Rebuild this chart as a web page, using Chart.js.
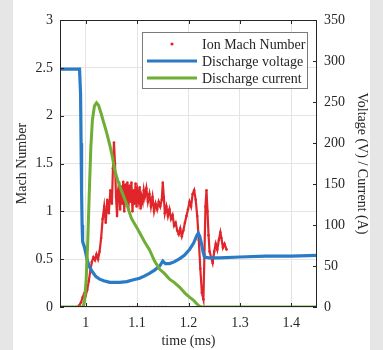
<!DOCTYPE html>
<html>
<head>
<meta charset="utf-8">
<script src="https://cdn.jsdelivr.net/npm/chart.js@4"></script>
<style>
  html, body { margin: 0; padding: 0; background: #e6e6e6; }
  #wrap { position: absolute; left: 13px; top: 0; width: 357px; height: 350px; background: #fff; }
</style>
</head>
<body>
<div id="wrap"><canvas id="grafico" width="357" height="350"></canvas></div>
<script>
// Ion Mach number (left axis), null = gap in the trace
const tempoMach = [
  0.984, 0.988, 0.991, 0.994, 0.997, 1.000, 1.003, 1.006, 1.009, 1.012,
  1.015, 1.018, 1.021, 1.024, 1.027, 1.030, 1.033, 1.036, 1.039, 1.042,
  1.045, 1.048, 1.051, 1.053, 1.055, 1.057, 1.059, 1.061, 1.063, 1.065,
  1.067, 1.069, 1.071, 1.073, 1.075, 1.077, 1.079, 1.081, 1.083, 1.085,
  1.087, 1.089, 1.091, 1.093, 1.095, 1.097, 1.099, 1.101, 1.103, 1.105,
  1.107, 1.109, 1.111, 1.113, 1.115, 1.118, 1.121, 1.124, 1.127, 1.130,
  1.133, 1.136, 1.139, 1.142, 1.145, 1.148, 1.150, 1.152, 1.154, 1.157,
  1.160, 1.163, 1.166, 1.169, 1.172, 1.175, 1.178, 1.181, 1.184, 1.187,
  1.190, 1.193, 1.196, 1.199, 1.202, 1.205, 1.208, 1.211, 1.214, 1.217,
  1.220, 1.223, 1.226, 1.229, 1.231, 1.233, 1.235, 1.237, 1.239, 1.241,
  1.244, 1.247, 1.250, 1.253, 1.256, 1.259, 1.262, 1.264, 1.267, 1.270,
  1.274, 1.274,
  1.085, 1.092, 1.098, 1.104, 1.104,
  1.118, 1.126, 1.134, 1.142, 1.150, 1.156
]
const machNumber = [
  0.00, 0.02, 0.05, 0.10, 0.14, 0.12, 0.18, 0.27, 0.38, 0.47,
  0.52, 0.49, 0.55, 0.50, 0.58, 0.72, 0.92, 1.05, 0.88, 1.12,
  0.98, 1.22, 1.08, 1.45, 1.72, 1.50, 1.15, 0.95, 1.22, 1.30,
  1.02, 1.26, 1.08, 1.31, 1.00, 1.28, 1.12, 1.30, 1.02, 1.27,
  1.10, 1.30, 1.00, 1.22, 1.08, 1.29, 1.05, 1.20, 1.12, 1.25,
  1.03, 1.15, 1.10, 1.22, 1.15, 1.24, 1.10, 1.18, 1.05, 1.15,
  1.00, 1.08, 1.02, 1.10, 1.05, 1.12, 1.30, 1.15, 0.98, 1.05,
  0.95, 1.02, 0.92, 0.96, 0.85, 0.88, 0.80, 0.76, 0.82, 0.74,
  0.80, 0.88, 0.95, 1.02, 1.10, 1.05, 1.18, 1.22, 1.12, 0.95,
  0.70, 0.40, 0.15, 0.08, 0.55, 1.05, 1.22, 1.00, 0.75, 0.58,
  0.52, 0.46, 0.58, 0.66, 0.60, 0.70, 0.78, 0.72, 0.62, 0.66,
  0.60, null,
  0, 0, 0, 0, null,
  0, 0, 0, 0, 0, 0
]

// Discharge voltage (right axis, V)
const tempoTensao = [
  0.950, 0.970, 0.988, 0.990, 0.991, 0.992, 0.993, 0.994, 0.996, 0.998,
  1.000, 1.002, 1.004, 1.008, 1.014, 1.020, 1.027, 1.035, 1.047, 1.058,
  1.066, 1.080, 1.091, 1.105, 1.115, 1.124, 1.134, 1.144, 1.150, 1.155,
  1.163, 1.172, 1.183, 1.192, 1.202, 1.210, 1.216, 1.219, 1.222, 1.225,
  1.228, 1.231, 1.240, 1.260, 1.300, 1.350, 1.400, 1.450
]
const tensao = [
  290, 290, 290, 260, 200, 140, 100, 80, 76, 72,
  66, 60, 55, 48, 42, 37, 34, 32, 30, 30,
  30, 31, 33, 35, 38, 41, 45, 50, 56, 53,
  53, 55, 59, 63, 70, 78, 87, 90, 86, 78,
  68, 61, 60, 60, 61, 62, 62, 63
]

// Discharge current (right axis, A)
const tempoCorrente = [
  0.950, 0.995, 0.998, 1.001, 1.004, 1.007, 1.010, 1.013, 1.017, 1.021,
  1.025, 1.030, 1.035, 1.041, 1.047, 1.052, 1.056, 1.062, 1.070, 1.080,
  1.089, 1.101, 1.115, 1.124, 1.134, 1.144, 1.153, 1.163, 1.172, 1.183,
  1.193, 1.202, 1.210, 1.216, 1.221, 1.225, 1.300, 1.450
]
const corrente = [
  0, 0, 8, 35, 80, 140, 195, 228, 245, 249,
  246, 236, 225, 212, 197, 183, 168, 155, 141, 125,
  108, 95, 79, 70, 56, 46, 41, 34, 30, 24,
  17, 12, 8, 4, 1, 0, 0, 0
]

const ticksTempo = [1, 1.1, 1.2, 1.3, 1.4]
const ticksMach = [0, 0.5, 1, 1.5, 2, 2.5, 3]
const ticksVolt = [0, 50, 100, 150, 200, 250, 300, 350]

const fonte = 'Liberation Serif, Times New Roman, serif'
const corEixo = '#262626'

const pares = (xs, ys) => xs.map((x, i) => ({ x: x, y: ys[i] }))
const fmt = v => String(+v.toFixed(2))

// frame, inward ticks and legend box
const molduraPlugin = {
    id: 'moldura',
    afterDraw(chart) {
        const { ctx, chartArea: a, scales } = chart
        ctx.save()
        ctx.strokeStyle = corEixo
        ctx.lineWidth = 1
        ctx.strokeRect(Math.round(a.left) + 0.5, Math.round(a.top) + 0.5,
            Math.round(a.right - a.left) - 1, Math.round(a.bottom - a.top) - 1)

        ctx.beginPath()
        ticksTempo.forEach(v => {
            const x = Math.round(scales.x.getPixelForValue(v)) + 0.5
            ctx.moveTo(x, a.bottom); ctx.lineTo(x, a.bottom - 4)
            ctx.moveTo(x, a.top); ctx.lineTo(x, a.top + 4)
        })
        ticksMach.forEach(v => {
            const y = Math.round(scales.y.getPixelForValue(v)) + 0.5
            ctx.moveTo(a.left, y); ctx.lineTo(a.left + 4, y)
        })
        ticksVolt.forEach(v => {
            const y = Math.round(scales.y2.getPixelForValue(v)) + 0.5
            ctx.moveTo(a.right, y); ctx.lineTo(a.right - 4, y)
        })
        ctx.stroke()

        // legend
        const bx = 129, by = 32, bw = 165, bh = 56
        ctx.fillStyle = '#fff'
        ctx.fillRect(bx, by, bw, bh)
        ctx.strokeStyle = '#7a7a7a'
        ctx.strokeRect(bx + 0.5, by + 0.5, bw, bh)

        const itens = [
            { txt: 'Ion Mach Number', cor: '#e0262a', tipo: 'ponto' },
            { txt: 'Discharge voltage', cor: '#2a7bc6', tipo: 'linha' },
            { txt: 'Discharge current', cor: '#6fae35', tipo: 'linha' }
        ]
        ctx.font = '14px ' + fonte
        ctx.textBaseline = 'middle'
        ctx.textAlign = 'left'
        itens.forEach((it, i) => {
            const y = 44 + i * 17
            if (it.tipo === 'ponto') {
                ctx.fillStyle = it.cor
                ctx.beginPath(); ctx.arc(159, y, 1.6, 0, Math.PI * 2); ctx.fill()
            } else {
                ctx.strokeStyle = it.cor
                ctx.lineWidth = 3
                ctx.beginPath(); ctx.moveTo(134, y); ctx.lineTo(184, y); ctx.stroke()
            }
            ctx.fillStyle = corEixo
            ctx.fillText(it.txt, 189, y + 1)
        })
        ctx.restore()
    }
}

const ctx = document.getElementById('grafico').getContext('2d')

const grafico = new Chart(ctx, {
    type: 'scatter',
    data: {
        datasets: [
            {
                label: 'Discharge current',
                data: pares(tempoCorrente, corrente),
                yAxisID: 'y2',
                showLine: true,
                borderColor: '#6fae35',
                borderWidth: 3,
                pointRadius: 0,
                order: 0
            },
            {
                label: 'Discharge voltage',
                data: pares(tempoTensao, tensao),
                yAxisID: 'y2',
                showLine: true,
                borderColor: '#2a7bc6',
                borderWidth: 3.2,
                pointRadius: 0,
                order: 1
            },
            {
                label: 'Ion Mach Number',
                data: pares(tempoMach, machNumber),
                yAxisID: 'y',
                showLine: true,
                spanGaps: false,
                borderColor: '#e0262a',
                backgroundColor: '#e0262a',
                borderWidth: 2.2,
                pointRadius: 1.3,
                pointBorderWidth: 0,
                order: 2
            }
        ]
    },
    options: {
        responsive: false,
        animation: false,
        layout: { padding: { top: 20 } },
        plugins: { legend: { display: false }, tooltip: { enabled: false } },
        scales: {
            x: {
                type: 'linear',
                min: 0.95,
                max: 1.45,
                afterBuildTicks: s => { s.ticks = ticksTempo.map(v => ({ value: v })) },
                afterFit: s => { s.height = 43 },
                grid: { color: '#e4e4e4', drawTicks: false },
                border: { display: false },
                ticks: { padding: 8, color: corEixo, font: { family: fonte, size: 14 }, callback: fmt },
                title: { display: true, text: 'time (ms)', color: corEixo, font: { family: fonte, size: 14 }, padding: { top: 0, bottom: 0 } }
            },
            y: {
                position: 'left',
                min: 0,
                max: 3,
                afterBuildTicks: s => { s.ticks = ticksMach.map(v => ({ value: v })) },
                afterFit: s => { s.width = 47 },
                grid: { color: '#e4e4e4', drawTicks: false },
                border: { display: false },
                ticks: { padding: 7, color: corEixo, font: { family: fonte, size: 14 }, callback: fmt },
                title: { display: true, text: 'Mach Number', color: corEixo, font: { family: fonte, size: 14 }, padding: { top: 1, bottom: 0 } }
            },
            y2: {
                position: 'right',
                min: 0,
                max: 350,
                afterBuildTicks: s => { s.ticks = ticksVolt.map(v => ({ value: v })) },
                afterFit: s => { s.width = 53 },
                grid: { display: false, drawTicks: false },
                border: { display: false },
                ticks: { padding: 7, color: corEixo, font: { family: fonte, size: 14 }, callback: fmt },
                title: { display: true, text: 'Voltage (V) / Current (A)', color: corEixo, font: { family: fonte, size: 14 }, padding: { top: 0, bottom: 0 } }
            }
        }
    },
    plugins: [molduraPlugin]
})
</script>
</body>
</html>
